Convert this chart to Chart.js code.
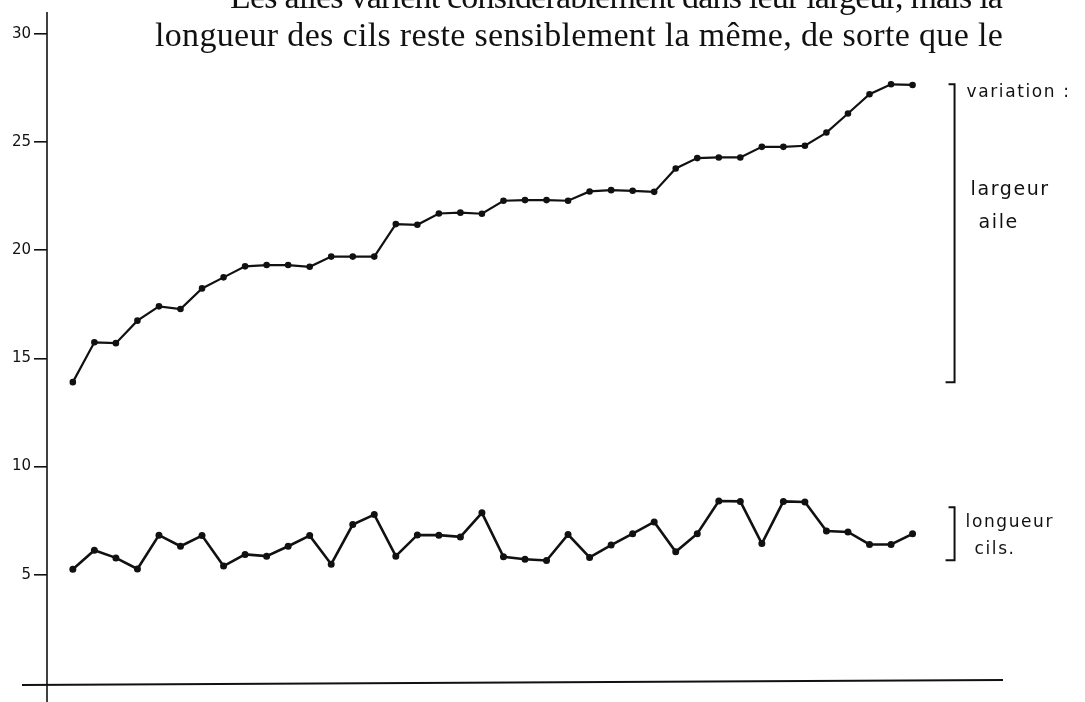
<!DOCTYPE html>
<html>
<head>
<meta charset="utf-8">
<script src="https://cdn.jsdelivr.net/npm/chart.js@4/dist/chart.umd.min.js"></script>
<style>
  html, body { margin: 0; padding: 0; background: #fff; }
  #wrap { width: 1085px; height: 702px; position: relative; }
</style>
</head>
<body>
<div id="wrap"><canvas id="graphique"></canvas></div>
<script>
// Données (40 individus)
const individus = [1, 2, 3, 4, 5, 6, 7, 8, 9, 10, 11, 12, 13, 14, 15, 16, 17, 18, 19, 20,
                   21, 22, 23, 24, 25, 26, 27, 28, 29, 30, 31, 32, 33, 34, 35, 36, 37, 38, 39, 40];

const largeurAile = [13.9, 15.74, 15.7, 16.74, 17.4, 17.28, 18.23, 18.74, 19.25, 19.31,
                     19.31, 19.23, 19.7, 19.7, 19.7, 21.2, 21.17, 21.69, 21.73, 21.68,
                     22.28, 22.31, 22.31, 22.28, 22.71, 22.77, 22.74, 22.69, 23.77, 24.25,
                     24.28, 24.28, 24.77, 24.77, 24.82, 25.43, 26.31, 27.2, 27.66, 27.63];

const longueurCils = [5.26, 6.13, 5.78, 5.27, 6.83, 6.32, 6.81, 5.4, 5.94, 5.86,
                      6.32, 6.81, 5.49, 7.32, 7.78, 5.86, 6.84, 6.83, 6.75, 7.86,
                      5.83, 5.72, 5.66, 6.86, 5.8, 6.37, 6.9, 7.44, 6.06, 6.9,
                      8.41, 8.39, 6.44, 8.39, 8.36, 7.02, 6.98, 6.4, 6.4, 6.89];

const graduationsY = [5, 10, 15, 20, 25, 30];

// Accolade des cils (l'accolade de l'aile suit le min/max de la série)
const accoladeCils = [5.67, 8.12];
const positionAccolade = 41.95;

const texteLigne1 = 'Les ailes varient considérablement dans leur largeur, mais la';
const texteLigne2 = 'longueur des cils reste sensiblement la même, de sorte que le';

const encre = '#111';
const mainFont = '"DejaVu Sans", sans-serif';

// écrit une ligne justifiée entre x1 et x2
function ligneJustifiee(ctx, texte, x1, x2, base) {
    ctx.letterSpacing = '0px';
    const largeur = ctx.measureText(texte).width;
    const extra = (x2 - x1 - largeur) / (texte.length - 1);
    ctx.letterSpacing = extra.toFixed(2) + 'px';
    ctx.fillText(texte, x1, base);
    ctx.letterSpacing = '0px';
}

// Axes prolongés, accolades, annotations et texte imprimé
const decorPlugin = {
    id: 'decor',
    afterDraw(chart) {
        const ctx = chart.ctx;
        const area = chart.chartArea;
        const x = chart.scales.x;
        const y = chart.scales.y;
        ctx.save();

        // texte du livre en haut
        ctx.fillStyle = encre;
        ctx.font = '34px "Liberation Serif", serif';
        ctx.textBaseline = 'alphabetic';
        ctx.textAlign = 'left';
        ligneJustifiee(ctx, texteLigne1, 230, area.right, 8);
        ligneJustifiee(ctx, texteLigne2, 155, area.right, 46);

        // axes
        ctx.strokeStyle = encre;
        ctx.lineWidth = 2;
        const y0 = y.getPixelForValue(0);
        ctx.beginPath();
        ctx.moveTo(area.left - 25, y0 + 2);
        ctx.lineTo(area.right, y0 - 3);
        ctx.stroke();
        ctx.lineWidth = 1.6;
        ctx.beginPath();
        ctx.moveTo(area.left, area.top);
        ctx.lineTo(area.left, chart.height);
        ctx.stroke();

        // accolades
        const bx = x.getPixelForValue(positionAccolade);
        function accolade(vHaut, vBas) {
            const t = y.getPixelForValue(vHaut);
            const b = y.getPixelForValue(vBas);
            ctx.lineWidth = 2;
            ctx.beginPath();
            ctx.moveTo(bx - 6, t);
            ctx.lineTo(bx, t);
            ctx.lineTo(bx, b);
            ctx.lineTo(bx - 9, b);
            ctx.stroke();
        }
        accolade(Math.max(...largeurAile), Math.min(...largeurAile));
        accolade(accoladeCils[1], accoladeCils[0]);

        // annotations manuscrites
        ctx.font = '17px ' + mainFont;
        ctx.letterSpacing = '1.6px';
        const tAile = y.getPixelForValue(Math.max(...largeurAile));
        ctx.fillText('variation :', bx + 12, tAile + 13);
        ctx.font = '19px ' + mainFont;
        ctx.fillText('largeur', bx + 16, tAile + 111);
        ctx.fillText('aile', bx + 24, tAile + 144);
        ctx.font = '17px ' + mainFont;
        const tCils = y.getPixelForValue(accoladeCils[1]);
        ctx.fillText('longueur', bx + 11, tCils + 20);
        ctx.fillText('cils.', bx + 20, tCils + 47);
        ctx.restore();
    }
};

const ctx = document.getElementById('graphique').getContext('2d');
new Chart(ctx, {
    type: 'line',
    data: {
        datasets: [
            {
                label: 'largeur aile',
                data: individus.map((n, i) => ({ x: n, y: largeurAile[i] })),
                borderColor: encre,
                backgroundColor: encre,
                borderWidth: 2.2,
                pointRadius: 2.2,
                tension: 0
            },
            {
                label: 'longueur cils',
                data: individus.map((n, i) => ({ x: n, y: longueurCils[i] })),
                borderColor: encre,
                backgroundColor: encre,
                borderWidth: 2.6,
                pointRadius: 2.2,
                tension: 0
            }
        ]
    },
    options: {
        responsive: true,
        maintainAspectRatio: false,
        animation: false,
        layout: { padding: { top: 11, right: 82, bottom: 19, left: 0 } },
        plugins: { legend: { display: false }, tooltip: { enabled: false } },
        scales: {
            x: { type: 'linear', min: -0.2, max: 44.2, display: false },
            y: {
                type: 'linear',
                min: 0,
                max: 31,
                afterBuildTicks: scale => { scale.ticks = graduationsY.map(v => ({ value: v })); },
                afterFit: scale => { scale.width = 47; },
                border: { display: false },
                grid: { drawOnChartArea: false, drawTicks: true, tickLength: 13, color: encre, lineWidth: 1.6 },
                ticks: {
                    color: encre,
                    padding: 3,
                    font: { family: 'DejaVu Sans', size: 15 }
                }
            }
        }
    },
    plugins: [decorPlugin]
});
</script>
</body>
</html>
